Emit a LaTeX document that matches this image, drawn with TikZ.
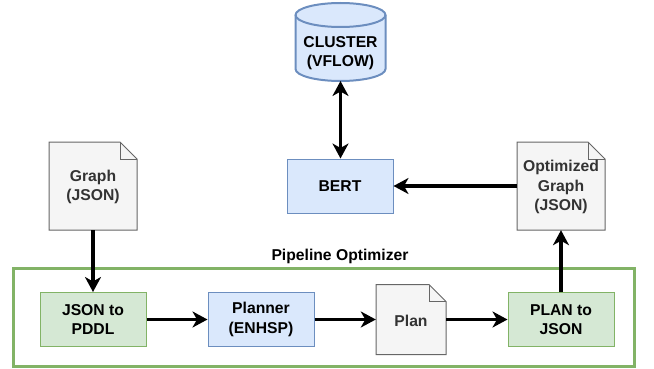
\documentclass[tikz,border=0pt]{standalone}
\usepackage{fontspec}
\setmainfont{Liberation Sans}
\usetikzlibrary{arrows.meta,shapes.geometric}
\definecolor{gfill}{HTML}{D5E8D4}
\definecolor{gline}{HTML}{82B366}
\definecolor{bfill}{HTML}{DAE8FC}
\definecolor{bline}{HTML}{6C8EBF}
\definecolor{dfill}{HTML}{F5F5F5}
\definecolor{dline}{HTML}{666666}
\definecolor{dtext}{HTML}{333333}
\tikzset{
  lbl/.style={font=\fontsize{15.7}{19.5}\selectfont\bfseries,align=center,inner sep=0pt},
  boxg/.style={lbl,draw=gline,fill=gfill,line width=1pt,minimum width=106pt,minimum height=54pt},
  boxb/.style={lbl,draw=bline,fill=bfill,line width=1pt,minimum width=106pt,minimum height=54pt},
  doctext/.style={lbl,text=dtext},
  docshape/.style={draw=dline,fill=dfill,line width=1pt,line join=miter},
  conn/.style={line width=3.2pt,-{Stealth[length=15pt,width=16pt,inset=4.5pt]}},
  connb/.style={line width=3.2pt,{Stealth[length=15pt,width=16pt,inset=4.5pt]}-{Stealth[length=15pt,width=16pt,inset=4.5pt]}},
}
\newcommand{\docpic}[6]{% name, x0, y0, w, h, text
  \draw[docshape] (#2,#3) -- (#2+#4-17,#3) -- (#2+#4,#3+17) -- (#2+#4,#3+#5) -- (#2,#3+#5) -- cycle;
  \draw[docshape,fill=none] (#2+#4-17,#3) -- (#2+#4-17,#3+17) -- (#2+#4,#3+17);
  \node[minimum width=#4 pt,minimum height=#5 pt,inner sep=0pt] (#1) at (#2+#4/2,#3+#5/2) {};
  \node[doctext] (#1t) at (#2+#4/2,#3+#5/2+1) {#6};
}
\begin{document}
\begin{tikzpicture}[x=1pt,y=-1pt]
\useasboundingbox (0,0) rectangle (654,369);
% group
\node[draw=gline,line width=3pt,minimum width=621pt,minimum height=98pt,inner sep=0pt] (grp) at (323.5,317) {};
\node[lbl,text=black] (grplbl) at (340,256) {Pipeline Optimizer};
% boxes
\node[boxg] (jp) at (93,319.5) {JSON to\\PDDL};
\node[boxb] (pl) at (261,319.5) {Planner\\(ENHSP)};
\node[boxg] (pj) at (561,319.5) {PLAN to\\JSON};
\node[boxb] (bert) at (340,186) {BERT};
% docs
\docpic{plan}{376}{284.5}{70}{70}{Plan}
\docpic{og}{517}{142}{88}{88}{Optimized\\Graph\\(JSON)}
\docpic{gr}{49}{142}{88}{88}{Graph\\(JSON)}
% cylinder
\draw[draw=bline,fill=bfill,line width=2pt]
  (295.5,15) -- (295.5,69) arc[start angle=180,end angle=0,x radius=45,y radius=12] -- (385.5,15)
  arc[start angle=0,end angle=-180,x radius=45,y radius=12] -- cycle;
\draw[draw=bline,line width=2pt] (295.5,15) arc[start angle=180,end angle=0,x radius=45,y radius=12];
\node[lbl] (cl) at (340.5,53) {CLUSTER\\(VFLOW)};
\coordinate (clb) at (340.5,81);
% connectors
\draw[conn] (gr.south) -- (jp.north);
\draw[conn] (jp.east) -- (pl.west);
\draw[conn] (pl.east) -- (plan.west);
\draw[conn] (plan.east) -- (pj.west);
\draw[conn] (pj.north) -- (og.south);
\draw[conn] (og.west) -- (bert.east);
\draw[connb] (clb) -- (bert.north -| clb);
\end{tikzpicture}
\end{document}
